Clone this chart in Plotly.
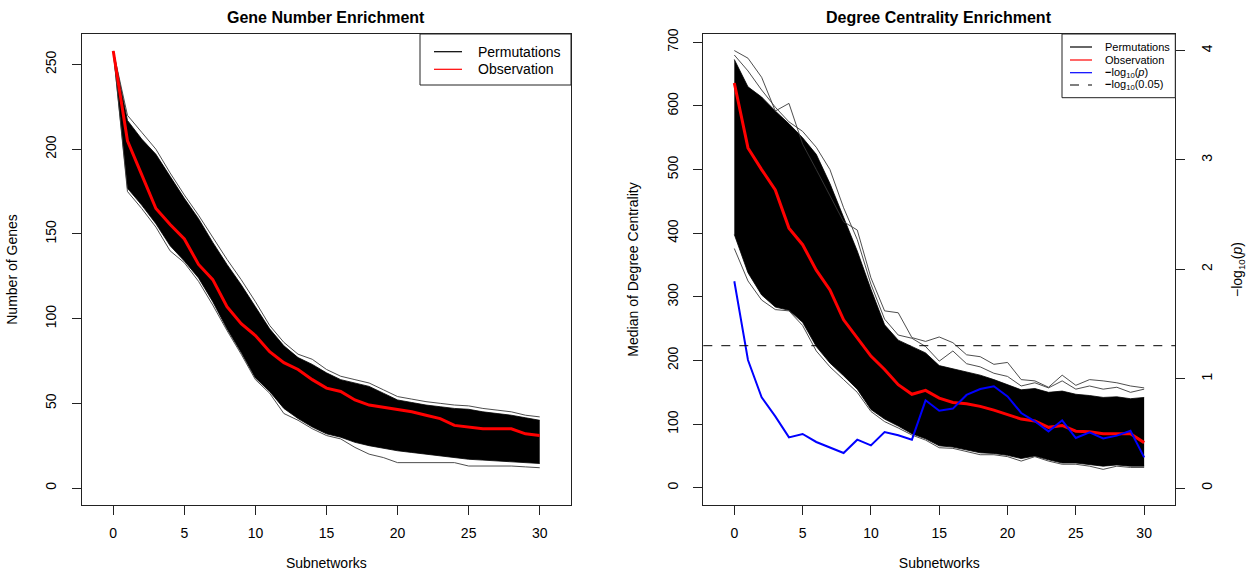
import math
import plotly.graph_objects as go

# ---------------- data ----------------
subnetworks = list(range(31))

# Left panel: Gene Number Enrichment
gene_observation = [258, 205, 185, 165, 155.5, 147, 132, 123, 107, 97, 90, 80.5, 74, 70, 64, 59,
                    57, 52, 49, 47.7, 46, 45, 43, 41, 37, 36, 35, 35, 35, 32, 31]
gene_perm_core_upper = [258, 217, 206, 197, 184, 171, 159, 145, 132, 120, 107, 94, 84, 77, 73, 68,
                        64, 62, 60, 56, 52, 50.5, 49, 48, 47, 46.5, 45, 44, 43, 41.5, 40]
gene_perm_core_lower = [258, 177, 167, 156, 143, 134, 124, 110, 94, 80, 65, 57, 47, 41, 36, 32,
                        30, 27, 25, 23.5, 22, 21, 20, 19, 18, 17, 16.5, 16, 15.5, 15, 14.5]
gene_perm_high_line = [258, 220, 210, 200, 186, 173, 161, 148, 135, 123, 110, 96, 86, 79, 76, 70,
                       66, 64, 62, 58, 54, 52.5, 51, 50, 49, 48.5, 47, 46, 45, 43, 42]
gene_perm_low_line = [258, 175, 165, 154, 140, 133, 122, 108, 93, 79, 64, 56, 44, 40, 35, 31,
                      29, 24, 20, 18, 15, 15, 15, 15, 15, 13, 13, 13, 13, 12.5, 12]

# Right panel: Degree Centrality Enrichment
deg_observation = [636, 534, 500, 468, 408, 382, 342, 311, 264, 236, 207, 186, 162, 147, 153, 141,
                   134, 132, 128, 122, 115, 108, 105, 95, 98, 89, 88, 85, 85, 85, 71]
deg_perm_core_upper = [673, 630, 614, 592, 572, 550, 524, 478, 425, 372, 312, 256, 232, 222, 212, 192,
                       187, 182, 177, 170, 162, 154, 156, 150, 152, 147, 145, 142, 143, 140, 142]
deg_perm_core_lower = [398, 338, 303, 284, 279, 260, 222, 196, 176, 155, 123, 108, 97, 85, 77, 66,
                       64, 59, 55, 54, 51, 46, 50, 44, 39, 39, 36, 34, 36, 34, 34]
deg_perm_high_line = [687, 675, 645, 592, 604, 540, 500, 460, 418, 405, 330, 278, 275, 236, 230, 237,
                      228, 209, 206, 194, 197, 170, 168, 158, 177, 161, 170, 168, 165, 160, 157]
deg_perm_high_line2 = [680, 655, 625, 598, 575, 560, 535, 500, 440, 390, 320, 265, 240, 235, 222, 199,
                       215, 195, 190, 180, 175, 160, 165, 157, 168, 155, 160, 155, 158, 150, 155]
deg_perm_low_line = [376, 325, 295, 280, 278, 255, 215, 190, 170, 150, 120, 104, 94, 83, 75, 63,
                     62, 57, 52, 52, 49, 42, 49, 42, 37, 37, 34, 29, 34, 32, 32]
deg_neg_log10_p = [1.89, 1.17, 0.83, 0.655, 0.463, 0.494, 0.421, 0.372, 0.32, 0.442, 0.39, 0.512,
                   0.482, 0.442, 0.802, 0.707, 0.726, 0.851, 0.905, 0.93, 0.838, 0.686, 0.61, 0.518,
                   0.619, 0.457, 0.509, 0.454, 0.479, 0.524, 0.28]
alpha_level = 0.05

x_ticks = [0, 5, 10, 15, 20, 25, 30]
gene_y_ticks = [0, 50, 100, 150, 200, 250]
deg_y_ticks = [0, 100, 200, 300, 400, 500, 600, 700]
p_y_ticks = [0, 1, 2, 3, 4]

gene_legend_labels = ["Permutations", "Observation"]
deg_legend_labels = ["Permutations", "Observation",
                     "<b>\u2212</b>log<sub>10</sub>(<i>p</i>)",
                     "<b>\u2212</b>log<sub>10</sub>(0.05)"]

# ---------------- figure ----------------
FONT = "Liberation Sans, Arial, Helvetica, sans-serif"
W, H = 1258, 578
fig = go.Figure()


def add_band(xa, ya, lower, upper):
    fig.add_trace(go.Scatter(x=subnetworks, y=lower, xaxis=xa, yaxis=ya, mode="lines",
                             line=dict(color="black", width=0.8), showlegend=False, hoverinfo="skip"))
    fig.add_trace(go.Scatter(x=subnetworks, y=upper, xaxis=xa, yaxis=ya, mode="lines",
                             line=dict(color="black", width=0.8), fill="tonexty", fillcolor="black",
                             showlegend=False, hoverinfo="skip"))


def add_perm_line(xa, ya, vals):
    fig.add_trace(go.Scatter(x=subnetworks, y=vals, xaxis=xa, yaxis=ya, mode="lines",
                             line=dict(color="#3a3a3a", width=0.9), showlegend=False, hoverinfo="skip"))


# left panel
add_band("x", "y", gene_perm_core_lower, gene_perm_core_upper)
add_perm_line("x", "y", gene_perm_high_line)
add_perm_line("x", "y", gene_perm_low_line)
fig.add_trace(go.Scatter(x=subnetworks, y=gene_observation, xaxis="x", yaxis="y", mode="lines",
                         line=dict(color="#ff0000", width=3), showlegend=False))

# right panel
add_band("x2", "y2", deg_perm_core_lower, deg_perm_core_upper)
add_perm_line("x2", "y2", deg_perm_high_line)
add_perm_line("x2", "y2", deg_perm_high_line2)
add_perm_line("x2", "y2", deg_perm_low_line)
fig.add_trace(go.Scatter(x=subnetworks, y=deg_observation, xaxis="x2", yaxis="y2", mode="lines",
                         line=dict(color="#ff0000", width=3), showlegend=False))
fig.add_trace(go.Scatter(x=subnetworks, y=deg_neg_log10_p, xaxis="x2", yaxis="y3", mode="lines",
                         line=dict(color="#0000ff", width=2), showlegend=False))

shapes = []
annotations = []

# significance threshold line
shapes.append(dict(type="line", xref="x2 domain", yref="y3", x0=0, x1=1,
                   y0=-math.log10(alpha_level), y1=-math.log10(alpha_level),
                   line=dict(color="black", width=1, dash="dash"), layer="above"))


def px(xv):
    return xv / W


def py(yv):
    return 1 - yv / H


def add_legend(box, rows_y, line_x, text_x, labels, colors, dashes, size):
    x0, x1, y0, y1 = box
    shapes.append(dict(type="rect", xref="paper", yref="paper", x0=px(x0), x1=px(x1),
                       y0=py(y1), y1=py(y0), line=dict(color="#222", width=1),
                       fillcolor="white", layer="above"))
    for ry, lab, col, dsh in zip(rows_y, labels, colors, dashes):
        shapes.append(dict(type="line", xref="paper", yref="paper", x0=px(line_x[0]), x1=px(line_x[1]),
                           y0=py(ry), y1=py(ry), line=dict(color=col, width=1.2, dash=dsh),
                           layer="above"))
        annotations.append(dict(text=lab, x=px(text_x), y=py(ry), xref="paper", yref="paper",
                                showarrow=False, xanchor="left", yanchor="middle",
                                font=dict(family=FONT, size=size, color="black")))


add_legend((420, 571, 34, 85), [51.7, 69.3], (434, 462), 475.5,
           gene_legend_labels, ["black", "#ff0000"], ["solid", "solid"], 14)
add_legend((1062, 1175.3, 34, 97.7), [47, 60, 72.7, 85], (1070, 1092), 1102.7,
           deg_legend_labels, ["black", "#ff0000", "#0000ff", "black"],
           ["solid", "solid", "solid", "dash"], 11)

# geometry (pixels)
L1, R1 = 81.7, 571.0
L2, R2 = 703.3, 1175.3
TOP, BOT = 34.0, 505.0
dom_y = [1 - BOT / H, 1 - TOP / H]

annotations += [
    dict(text="<b>Gene Number Enrichment</b>", x=px((L1 + R1) / 2), y=py(17), xref="paper",
         yref="paper", showarrow=False, xanchor="center", yanchor="middle",
         font=dict(family=FONT, size=16)),
    dict(text="<b>Degree Centrality Enrichment</b>", x=px((L2 + R2) / 2), y=py(17),
         xref="paper", yref="paper", showarrow=False, xanchor="center", yanchor="middle",
         font=dict(family=FONT, size=16)),
]

axis_common = dict(showgrid=False, zeroline=False, showline=True, linecolor="#222", linewidth=1,
                   mirror=True, ticks="outside", ticklen=9, tickwidth=1, tickcolor="#222",
                   tickfont=dict(family=FONT, size=14, color="black"), automargin=False)

fig.update_layout(
    width=W, height=H, margin=dict(l=0, r=0, t=0, b=0),
    paper_bgcolor="white", plot_bgcolor="white", showlegend=False,
    font=dict(family=FONT, color="black"),
    xaxis=dict(domain=[px(L1), px(R1)], anchor="y", range=[-2.22, 32.2], tickvals=x_ticks,
               ticklabelstandoff=6,
               title=dict(text="Subnetworks", font=dict(size=14), standoff=18), **axis_common),
    yaxis=dict(domain=dom_y, anchor="x", range=[-10, 268], tickvals=gene_y_ticks, tickangle=-90,
               ticklabelstandoff=10,
               title=dict(text="Number of Genes", font=dict(size=14), standoff=22), **axis_common),
    xaxis2=dict(domain=[px(L2), px(R2)], anchor="y2", range=[-2.27, 32.28], tickvals=x_ticks,
                ticklabelstandoff=6,
                title=dict(text="Subnetworks", font=dict(size=14), standoff=18), **axis_common),
    yaxis2=dict(domain=dom_y, anchor="x2", range=[-27, 713], tickvals=deg_y_ticks, tickangle=-90,
                ticklabelstandoff=10,
                title=dict(text="Median of Degree Centrality", font=dict(size=14), standoff=22),
                **axis_common),
    yaxis3=dict(overlaying="y2", anchor="x2", side="right", range=[-0.155, 4.15], tickvals=p_y_ticks,
                tickangle=-90, ticklabelstandoff=10,
                title=dict(text="\u2212log<sub>10</sub>(<i>p</i>)", font=dict(size=14), standoff=18),
                **{k: v for k, v in axis_common.items() if k != "mirror"}),
    shapes=shapes,
    annotations=annotations,
)

fig.write_html("out.html")
